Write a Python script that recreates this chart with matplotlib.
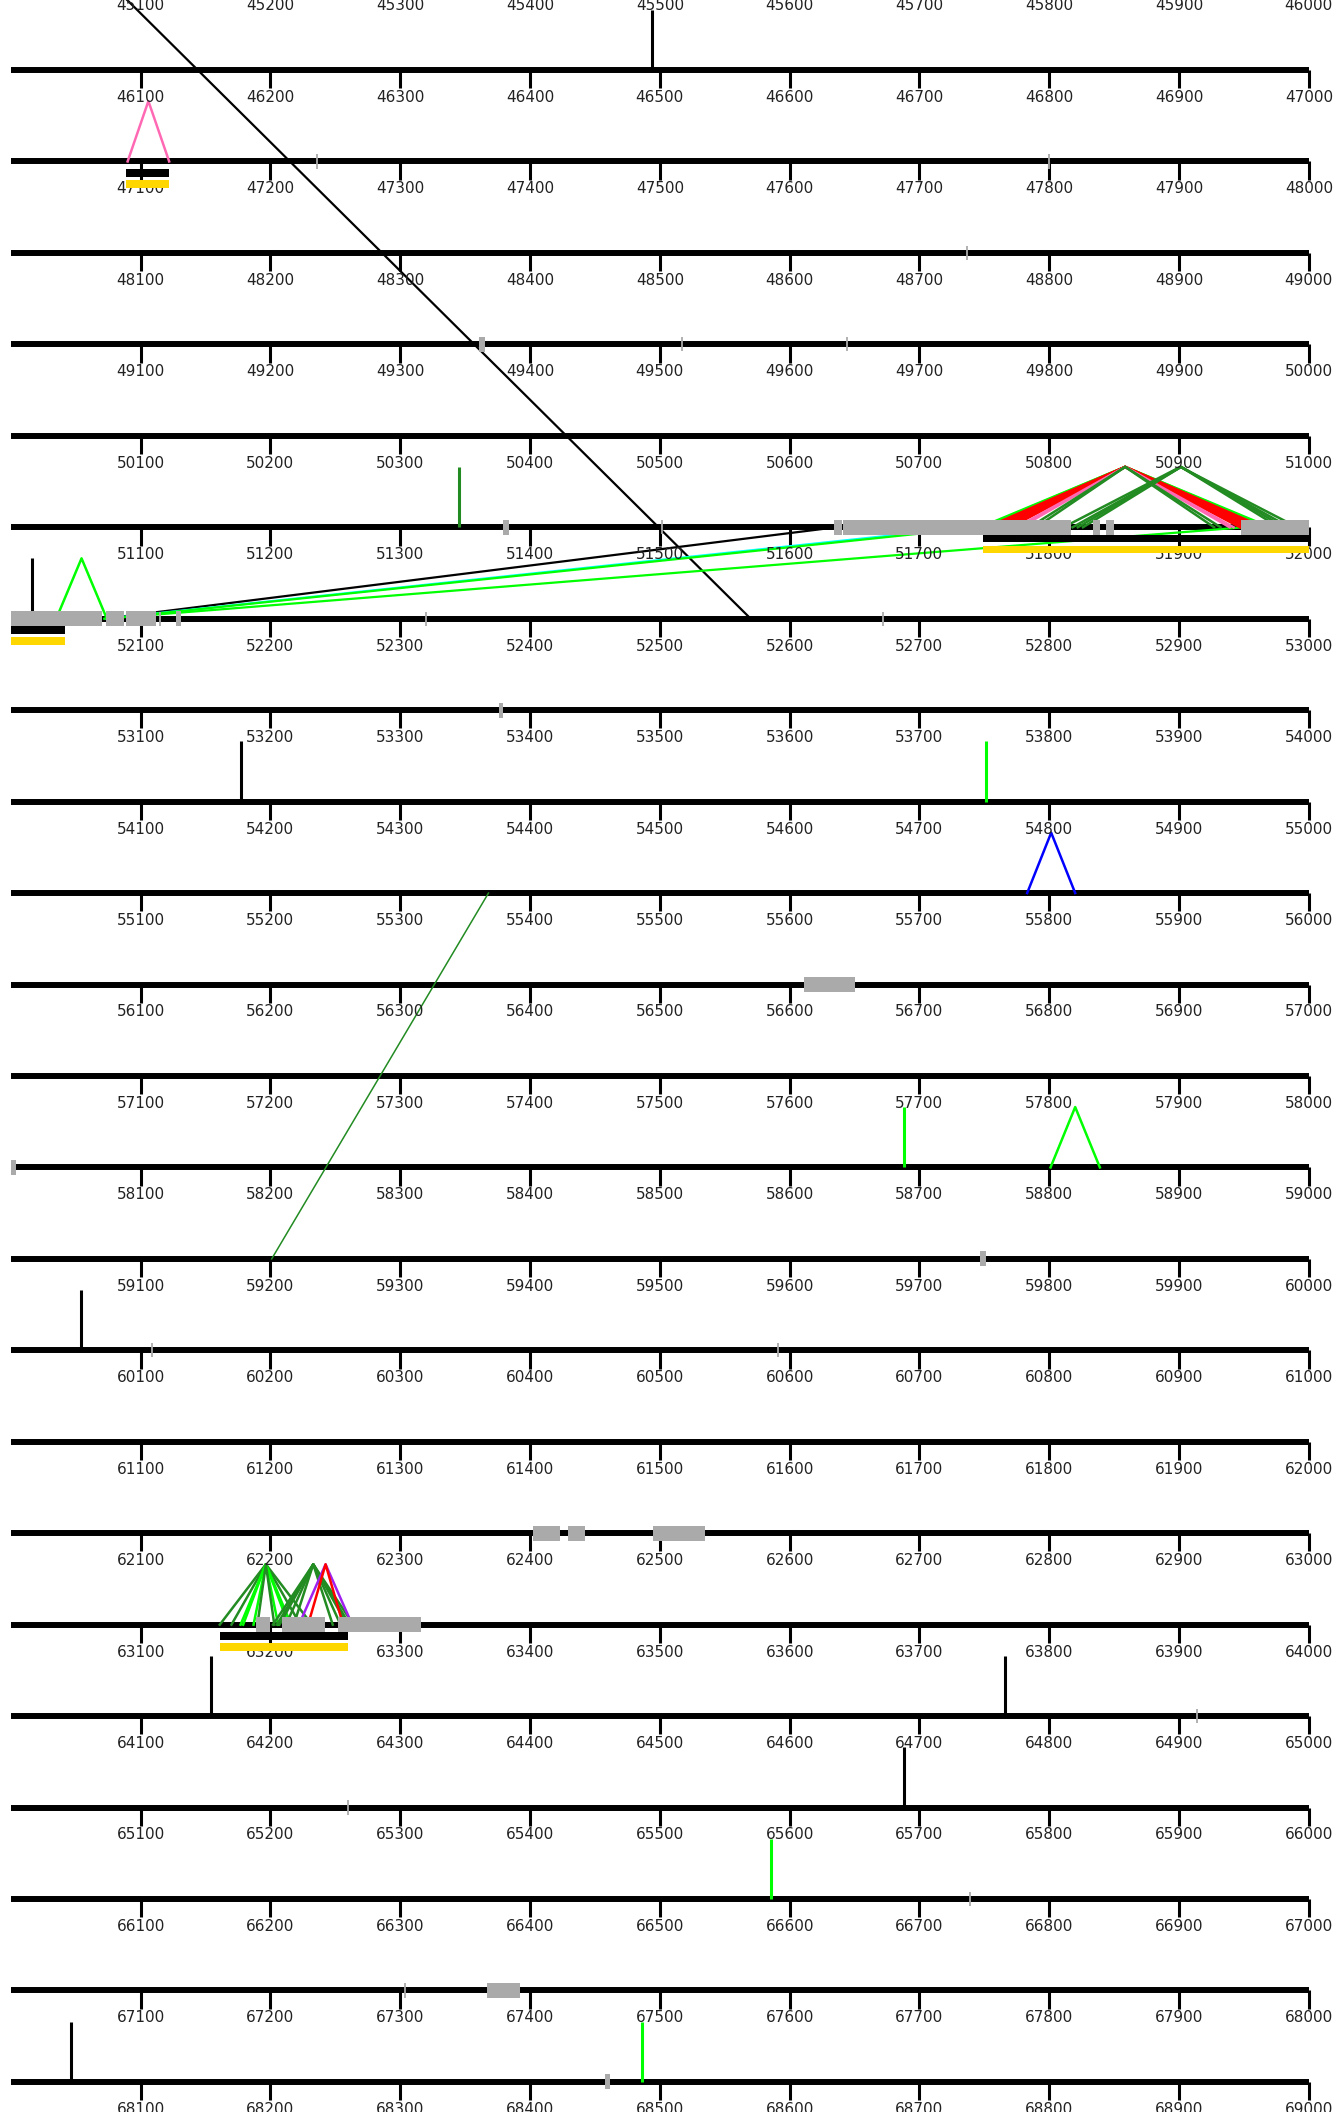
import matplotlib
matplotlib.use("Agg")
import matplotlib.pyplot as plt
from matplotlib.patches import Rectangle

# layout of the track: one row per 1000 bp
first_row = 46000
n_rows = 23
row_len = 1000
tick_step = 100

# single-position marks (genomic coordinate)
black_marks = [46494, 52016, 54177, 60054, 64154, 64766, 65688, 68046]
lime_marks = [54751, 58688, 66586, 68486]
green_marks = [51345]

# small grey features
gray_ticks = [47236, 47800, 48737, 49517, 49644, 51502, 52115, 52320,
              52672, 60109, 60591, 64914, 65260, 66739, 67304]
gray_boxes = [(49361, 49365), (51379, 51384), (51634, 51640), (51641, 51817),
              (51834, 51839), (51844, 51850), (51948, 52070), (52073, 52087),
              (52089, 52112), (52127, 52131), (53376, 53379), (56611, 56650),
              (58000, 58004), (59747, 59751), (62402, 62423), (62429, 62442),
              (62495, 62535), (63189, 63200), (63209, 63242), (63252, 63316),
              (67367, 67392), (68458, 68462)]

# annotated genes (black bar + yellow bar)
genes = [(47089, 47122), (51749, 52042), (63161, 63260)]

# junctions: (start, end, colour)
junctions = [
    (44002, 52570, "black"),
    (55368, 59201, "#228B22"),
    (51636, 52072, "black"),
    (51738, 52073, "#00FFFF"),
    (51747, 52075, "#00FF00"),
    (51950, 52072, "#00FF00"),
    (47090, 47122, "#FF69B4"),
    (52035, 52074, "#00FF00"),
    (55783, 55820, "#0000FF"),
    (58801, 58839, "#00FF00"),
    # fan around 51860
    (51747, 51970, "#00FF00"),
    (51749, 51968, "#00FF00"),
    (51752, 51965, "red"),
    (51755, 51962, "red"),
    (51758, 51959, "red"),
    (51761, 51956, "red"),
    (51764, 51953, "red"),
    (51767, 51950, "red"),
    (51770, 51947, "red"),
    (51775, 51942, "#FF69B4"),
    (51778, 51939, "#FF69B4"),
    (51785, 51932, "#228B22"),
    (51790, 51927, "#228B22"),
    (51811, 51991, "#228B22"),
    (51818, 51985, "#228B22"),
    (51822, 51981, "#228B22"),
    (51826, 51977, "#228B22"),
    # fan around 63200
    (63161, 63232, "#228B22"),
    (63170, 63223, "#228B22"),
    (63177, 63216, "#00FF00"),
    (63179, 63214, "#00FF00"),
    (63187, 63206, "#00FF00"),
    (63190, 63203, "#228B22"),
    (63202, 63264, "#228B22"),
    (63205, 63261, "#228B22"),
    (63207, 63259, "#228B22"),
    (63212, 63254, "#228B22"),
    (63218, 63248, "#228B22"),
    (63222, 63263, "#A020F0"),
    (63229, 63256, "red"),
]


def pos(g):
    r = (g - first_row) // row_len
    return r, g - first_row - r * row_len


def split(start, end):
    pieces = []
    s = start
    while s < end:
        r = (s - first_row) // row_len
        e = min(end, first_row + (r + 1) * row_len)
        base = first_row + r * row_len
        pieces.append((r, s - base, e - base))
        s = e
    return pieces


fig = plt.figure(figsize=(13.4, 21.12), dpi=100)
ax = fig.add_axes([0, 0, 1, 1])
ax.set_xlim(-8.32, 1024.0)
ax.set_ylim(22.329, -0.7654)
ax.axis("off")

h = 0.66  # height of marks / junction apex, in rows

# row lines, ticks and labels
for r in range(-1, n_rows):
    ax.plot([0, row_len], [r, r], color="black", lw=4.3,
            solid_capstyle="butt", zorder=1)
    for t in range(tick_step, row_len + 1, tick_step):
        ax.plot([t, t], [r, r + 0.2], color="black", lw=2.2,
                solid_capstyle="butt", zorder=1)
        ax.text(t, r + 0.3, str(first_row + r * row_len + t),
                ha="center", va="center", fontsize=11, color="#222222")

# junctions: arcs within a row, straight links across rows
for s, e, c in junctions:
    r1, x1 = pos(s)
    r2, x2 = pos(e)
    if r1 == r2:
        ax.plot([x1, (x1 + x2) / 2, x2], [r1, r1 - h, r2], color=c,
                lw=1.8, zorder=2)
    else:
        lw = 1.1 if c == "#228B22" else 1.6
        ax.plot([x1, x2], [r1, r2], color=c, lw=lw, zorder=2)

for marks, c in [(black_marks, "black"), (lime_marks, "#00FF00"),
                 (green_marks, "#228B22")]:
    for g in marks:
        r, x = pos(g)
        ax.plot([x, x], [r, r - h], color=c, lw=2.2,
                solid_capstyle="butt", zorder=2)

for g in gray_ticks:
    r, x = pos(g)
    ax.plot([x, x], [r - 0.078, r + 0.078], color="#AAAAAA", lw=1.3,
            solid_capstyle="butt", zorder=3)

for s, e in gray_boxes:
    for r, a, b in split(s, e):
        ax.add_patch(Rectangle((a, r - 0.082), b - a, 0.164,
                               color="#AAAAAA", lw=0, zorder=3))

for s, e in genes:
    for r, a, b in split(s, e):
        ax.add_patch(Rectangle((a, r + 0.08), b - a, 0.085,
                               color="black", lw=0, zorder=3))
        ax.add_patch(Rectangle((a, r + 0.2), b - a, 0.085,
                               color="#FFD700", lw=0, zorder=3))

fig.savefig("out.png", dpi=100)
